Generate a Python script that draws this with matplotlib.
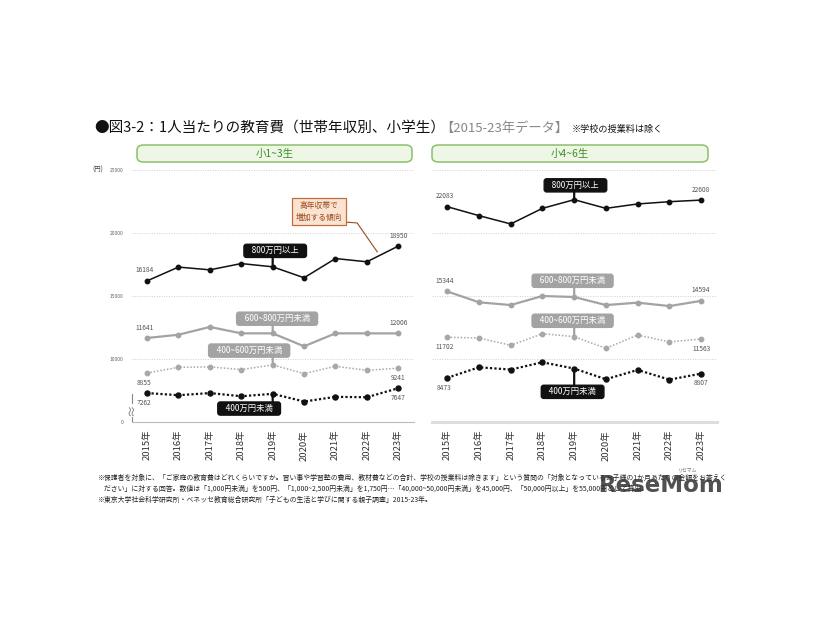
import matplotlib.pyplot as plt
from matplotlib.patches import FancyBboxPatch

plt.rcParams['font.family'] = ['Noto Sans CJK JP', 'DejaVu Sans']

# data
years = ['2015年', '2016年', '2017年', '2018年', '2019年', '2020年', '2021年', '2022年', '2023年']
groups = ['800万円以上', '600~800万円未満', '400~600万円未満', '400万円未満']

# 小1~3生
low_800 = [16184, 17280, 17060, 17560, 17300, 16430, 17960, 17700, 18950]
low_600 = [11641, 11900, 12520, 12010, 12010, 10980, 12010, 12010, 12006]
low_400 = [8855, 9310, 9340, 9130, 9500, 8810, 9390, 9070, 9241]
low_000 = [7262, 7090, 7260, 7010, 7200, 6590, 6960, 6930, 7647]

# 小4~6生
up_800 = [22083, 21370, 20710, 21950, 22640, 21950, 22300, 22480, 22608]
up_600 = [15344, 14480, 14260, 14980, 14900, 14260, 14450, 14180, 14594]
up_400 = [11702, 11640, 11060, 11980, 11750, 10820, 11880, 11330, 11563]
up_000 = [8473, 9310, 9130, 9710, 9210, 8360, 9100, 8330, 8807]

W, H = 826, 620
fig = plt.figure(figsize=(8.26, 6.2), dpi=100)

def fx(px):
    return px / W

def fy(py):
    return 1 - py / H

styles = [
    dict(color='#111111', ls='-', lw=1.1, ms=3.2),
    dict(color='#a3a3a3', ls='-', lw=1.6, ms=3.2),
    dict(color='#a8a8a8', ls=(0, (1, 1.2)), lw=1.1, ms=3.2),
    dict(color='#111111', ls=(0, (1, 1)), lw=1.6, ms=3.6),
]
box_colors = ['#111111', '#a3a3a3', '#a3a3a3', '#111111']
label_txt = '#555555'

def draw_panel(ax, series, boxes, value_offsets, yticklabels):
    x = range(len(years))
    for s, st in zip(series, styles):
        ax.plot(x, s, color=st['color'], ls=st['ls'], lw=st['lw'],
                marker='o', ms=st['ms'], mfc=st['color'], mec=st['color'])
    ax.set_xlim(-0.48, 8.5)
    ax.set_ylim(5000, 25000)
    for g in [10000, 15000, 20000, 25000]:
        ax.axhline(g, color='#cfcfcf', lw=0.7, ls=(0, (1, 1.5)), zorder=0)
    ax.set_xticks(list(x))
    ax.set_xticklabels(years, rotation=90, fontsize=6.8, color='#333333')
    ax.tick_params(axis='x', length=0, pad=6)
    for sp in ['top', 'right']:
        ax.spines[sp].set_visible(False)
    # value labels at first / last year
    for s, (d0, d1) in zip(series, value_offsets):
        ax.annotate(f'{s[0]}', (0, s[0]), xytext=(-2, d0), textcoords='offset points',
                    ha='center', va='center', fontsize=4.8, color=label_txt)
        ax.annotate(f'{s[-1]}', (8, s[-1]), xytext=(0, d1), textcoords='offset points',
                    ha='center', va='center', fontsize=4.8, color=label_txt)
    # group label boxes pointing at 2019
    for i, (s, (bx, by)) in enumerate(zip(series, boxes)):
        ax.annotate('', xy=(4, s[4]), xytext=(4, by),
                    arrowprops=dict(arrowstyle='-', color=box_colors[i], lw=1.6,
                                    shrinkA=0, shrinkB=1))
        ax.text(bx, by, '   ' + groups[i] + '   ', ha='center', va='center', fontsize=6,
                color='white',
                bbox=dict(boxstyle='round,pad=0.25,rounding_size=0.3',
                          fc=box_colors[i], ec=box_colors[i]))
    if yticklabels:
        ax.set_yticks([5000, 10000, 15000, 20000, 25000])
        ax.set_yticklabels(['0', '10000', '15000', '20000', '25000'], fontsize=3.6,
                           color='#666666')
        ax.tick_params(axis='y', length=0, pad=6)
        ax.spines['left'].set_bounds(5000, 7150)
        ax.spines['left'].set_color('#888888')
        ax.spines['left'].set_linewidth(0.8)
        ax.spines['bottom'].set_color('#bbbbbb')
        ax.spines['bottom'].set_linewidth(0.8)
        ax.text(0.0, 5900, '≈', rotation=90, ha='center', va='center', fontsize=9,
                color='#777777', transform=ax.get_yaxis_transform(),
                bbox=dict(fc='white', ec='none', pad=0.2))
        ax.text(-0.12, 25000, '(円)', ha='center', va='center', fontsize=4.6,
                color='#444444', transform=ax.get_yaxis_transform())
    else:
        ax.set_yticks([])
        ax.spines['left'].set_visible(False)
        ax.spines['bottom'].set_color('#dddddd')
        ax.spines['bottom'].set_linewidth(2.2)

# left panel
ax1 = fig.add_axes([fx(132), fy(421.5), fx(414) - fx(132), fy(170) - fy(421.5)])
draw_panel(ax1, [low_800, low_600, low_400, low_000],
           [(4.08, 18570), (4.14, 13175), (3.25, 10640), (3.25, 6030)],
           [(7.5, 7.5), (7.5, 7.5), (-7, -7), (-7, -7)], True)
# callout with leader line
ax1.plot([6.24, 6.69, 7.33], [20870, 20790, 18490], color='#9a4a1c', lw=0.8)
ax1.text(5.47, 21670, '高年収帯で\n増加する傾向', ha='center', va='center', fontsize=5.6,
         color='#9a4a1c', linespacing=1.6,
         bbox=dict(boxstyle='square,pad=0.45', fc='#fbe3d2', ec='#c0703f', lw=0.9))

# right panel
ax2 = fig.add_axes([fx(432), fy(421.5), fx(717) - fx(432), fy(170) - fy(421.5)])
draw_panel(ax2, [up_800, up_600, up_400, up_000],
           [(4.04, 23780), (3.95, 16190), (3.95, 13010), (3.95, 7360)],
           [(7.5, 7.5), (7.5, 7.5), (-7, -7), (-7, -7)], False)

# panel headers
for x0, x1, txt in [(137, 412, '小1~3生'), (432, 708, '小4~6生')]:
    fig.patches.append(FancyBboxPatch((fx(x0), fy(162)), fx(x1) - fx(x0), fy(145) - fy(162),
                                      boxstyle='round,pad=0,rounding_size=0.008',
                                      transform=fig.transFigure, fc='#eef7e6',
                                      ec='#8cc06a', lw=1.1))
    fig.text(fx((x0 + x1) / 2), fy(153.5), txt, ha='center', va='center', fontsize=7.5,
             color='#3f8f2b')

# title
fig.text(fx(94), fy(128), '●図3-2：1人当たりの教育費（世帯年収別、小学生）', ha='left',
         va='center', fontsize=10.5, color='#111111')
fig.text(fx(440), fy(128), '【2015-23年データ】', ha='left', va='center', fontsize=9.5,
         color='#888888')
fig.text(fx(572), fy(129), '※学校の授業料は除く', ha='left', va='center', fontsize=6.6,
         color='#111111')

# footnotes
notes = [
    '※保護者を対象に、「ご家庭の教育費はどれくらいですか。習い事や学習塾の費用、教材費などの合計、学校の授業料は除きます」という質問の「対象となっているお子様の1か月あたりの金額をお答えく',
    '　ださい」に対する回答。数値は「1,000円未満」を500円、「1,000~2,500円未満」を1,750円…「40,000~50,000円未満」を45,000円、「50,000円以上」を55,000円として算出。',
    '※東京大学社会科学研究所・ベネッセ教育総合研究所「子どもの生活と学びに関する親子調査」2015-23年。',
]
for i, t in enumerate(notes):
    fig.text(fx(97), fy(478 + i * 11), t, ha='left', va='center', fontsize=4.95,
             color='#222222')

# watermark
fig.text(fx(661), fy(485), 'ReseMom', ha='center', va='center', fontsize=16.5,
         fontweight='bold', color='#333333', alpha=0.85, family='DejaVu Sans')
fig.text(fx(688), fy(470), 'リセマム', ha='center', va='center', fontsize=3.5,
         color='#555555', alpha=0.85)

fig.savefig('out.png', dpi=100, facecolor='white')
